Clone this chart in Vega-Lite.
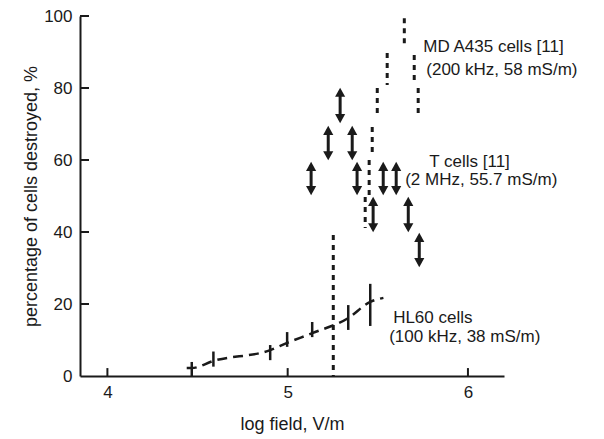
{
  "$schema": "https://vega.github.io/schema/vega-lite/v6.json",
  "width": 424,
  "height": 360,
  "autosize": "none",
  "padding": {"left": 80, "top": 16, "right": 100, "bottom": 63},
  "background": "white",
  "config": {
    "view": {"stroke": null},
    "font": "Liberation Sans",
    "axis": {
      "grid": false,
      "ticks": false,
      "domainColor": "#1a1a1a",
      "domainWidth": 2,
      "labelFont": "Liberation Sans",
      "labelFontSize": 17,
      "labelColor": "#1a1a1a",
      "titleFont": "Liberation Sans",
      "titleFontSize": 18,
      "titleFontWeight": "normal",
      "titleColor": "#1a1a1a"
    }
  },
  "encoding": {
    "x": {
      "field": "x",
      "type": "quantitative",
      "title": "log field, V/m",
      "scale": {"domain": [3.848, 6.2], "nice": false, "zero": false},
      "axis": {"values": [4, 5, 6], "format": "d", "ticks": false, "labelPadding": 8, "titlePadding": 15, "labelFontSize": 17, "titleFontSize": 18, "titleFontWeight": "normal"}
    }
  },
  "layer": [
    {
      "data": {"values": [
        {"x": 5.253, "lo": 0, "hi": 39.2},
        {"x": 5.430, "lo": 41.1, "hi": 49.7},
        {"x": 5.452, "lo": 50.3, "hi": 60},
        {"x": 5.469, "lo": 60.8, "hi": 69.2},
        {"x": 5.497, "lo": 71.7, "hi": 80},
        {"x": 5.552, "lo": 80.8, "hi": 89.7},
        {"x": 5.647, "lo": 91.1, "hi": 99.4},
        {"x": 5.702, "lo": 80.8, "hi": 89.2},
        {"x": 5.724, "lo": 71.7, "hi": 80}
      ]},
      "mark": {"type": "rule", "strokeWidth": 3, "strokeDash": [5, 5], "color": "#1a1a1a"},
      "encoding": {
        "y": {"field": "hi", "type": "quantitative", "title": "percentage of cells destroyed, %", "scale": {"domain": [0, 100], "nice": false}, "axis": {"values": [0, 20, 40, 60, 80, 100], "ticks": false, "labelPadding": 8, "titlePadding": 3, "labelFontSize": 17, "titleFontSize": 18, "titleFontWeight": "normal"}},
        "y2": {"field": "lo"}
      }
    },
    {
      "data": {"values": [
        {"x": 4, "lo": 0, "hi": 2.2},
        {"x": 5, "lo": 0, "hi": 2.2},
        {"x": 6, "lo": 0, "hi": 2.2}
      ]},
      "mark": {"type": "rule", "strokeWidth": 2, "color": "#1a1a1a"},
      "encoding": {
        "y": {"field": "hi", "type": "quantitative", "title": "percentage of cells destroyed, %", "scale": {"domain": [0, 100], "nice": false}},
        "y2": {"field": "lo"}
      }
    },
    {
      "data": {"values": [
        {"x": 3.848, "x2": 3.898, "y": 20},
        {"x": 3.848, "x2": 3.898, "y": 40},
        {"x": 3.848, "x2": 3.898, "y": 60},
        {"x": 3.848, "x2": 3.898, "y": 80},
        {"x": 3.848, "x2": 3.898, "y": 100}
      ]},
      "mark": {"type": "rule", "strokeWidth": 2, "color": "#1a1a1a"},
      "encoding": {
        "x2": {"field": "x2"},
        "y": {"field": "y", "type": "quantitative", "title": "percentage of cells destroyed, %", "scale": {"domain": [0, 100], "nice": false}}
      }
    },
    {
      "data": {"values": [
        {"x": 4.468, "lo": 0, "hi": 3.9},
        {"x": 4.588, "lo": 2.6, "hi": 6.8},
        {"x": 4.903, "lo": 4.4, "hi": 8.6},
        {"x": 4.997, "lo": 8.1, "hi": 12.2},
        {"x": 5.136, "lo": 10.8, "hi": 15},
        {"x": 5.336, "lo": 12.8, "hi": 19.7},
        {"x": 5.458, "lo": 13.9, "hi": 25.6}
      ]},
      "mark": {"type": "rule", "strokeWidth": 2.5, "color": "#1a1a1a"},
      "encoding": {
        "y": {"field": "hi", "type": "quantitative", "title": "percentage of cells destroyed, %", "scale": {"domain": [0, 100], "nice": false}},
        "y2": {"field": "lo"}
      }
    },
    {
      "data": {"values": [
        {"x": 4.44, "y": 2.2},
        {"x": 4.468, "y": 2.2},
        {"x": 4.588, "y": 4.2},
        {"x": 4.903, "y": 7.2},
        {"x": 4.997, "y": 9.2},
        {"x": 5.136, "y": 11.9},
        {"x": 5.336, "y": 16.1},
        {"x": 5.458, "y": 20.6},
        {"x": 5.531, "y": 21.7}
      ]},
      "mark": {"type": "line", "strokeWidth": 2.5, "strokeDash": [10, 6], "color": "#1a1a1a", "interpolate": "monotone"},
      "encoding": {
        "y": {"field": "y", "type": "quantitative", "title": "percentage of cells destroyed, %", "scale": {"domain": [0, 100], "nice": false}}
      }
    },
    {
      "data": {"name": "arrows", "values": [
        {"x": 5.130, "lo": 51.1, "hi": 58.6},
        {"x": 5.225, "lo": 60.8, "hi": 68.6},
        {"x": 5.291, "lo": 71.1, "hi": 79.2},
        {"x": 5.358, "lo": 60.8, "hi": 68.6},
        {"x": 5.385, "lo": 51.1, "hi": 58.6},
        {"x": 5.474, "lo": 40.8, "hi": 48.9},
        {"x": 5.530, "lo": 51.1, "hi": 58.6},
        {"x": 5.602, "lo": 51.1, "hi": 58.6},
        {"x": 5.669, "lo": 40.8, "hi": 48.9},
        {"x": 5.730, "lo": 31.1, "hi": 38.9}
      ]},
      "layer": [
        {
          "mark": {"type": "rule", "strokeWidth": 3, "color": "#1a1a1a"},
          "encoding": {
            "y": {"field": "hi", "type": "quantitative", "title": "percentage of cells destroyed, %", "scale": {"domain": [0, 100], "nice": false}},
            "y2": {"field": "lo"}
          }
        },
        {
          "mark": {"type": "point", "shape": "M0,-0.35L-0.55,0.65L0.55,0.65Z", "filled": true, "opacity": 1, "size": 340, "strokeWidth": 0, "color": "#1a1a1a"},
          "encoding": {
            "y": {"field": "hi", "type": "quantitative", "title": "percentage of cells destroyed, %", "scale": {"domain": [0, 100], "nice": false}}
          }
        },
        {
          "mark": {"type": "point", "shape": "M0,0.35L-0.55,-0.65L0.55,-0.65Z", "filled": true, "opacity": 1, "size": 340, "strokeWidth": 0, "color": "#1a1a1a"},
          "encoding": {
            "y": {"field": "lo", "type": "quantitative", "title": "percentage of cells destroyed, %", "scale": {"domain": [0, 100], "nice": false}}
          }
        }
      ]
    },
    {
      "data": {"values": [
        {"x": 5.752, "y": 91.4, "text": "MD A435 cells [11]"},
        {"x": 5.769, "y": 85.0, "text": "(200 kHz, 58 mS/m)"},
        {"x": 5.785, "y": 59.4, "text": "T cells [11]"},
        {"x": 5.652, "y": 54.4, "text": "(2 MHz, 55.7 mS/m)"},
        {"x": 5.585, "y": 16.1, "text": "HL60 cells"},
        {"x": 5.563, "y": 10.8, "text": "(100 kHz, 38 mS/m)"}
      ]},
      "mark": {"type": "text", "align": "left", "baseline": "middle", "fontSize": 17, "font": "Liberation Sans", "color": "#1a1a1a"},
      "encoding": {
        "y": {"field": "y", "type": "quantitative", "title": "percentage of cells destroyed, %", "scale": {"domain": [0, 100], "nice": false}},
        "text": {"field": "text"}
      }
    }
  ]
}
